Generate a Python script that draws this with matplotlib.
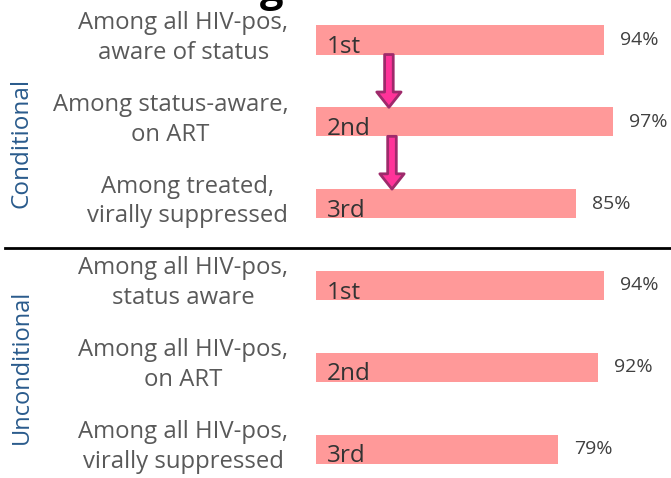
import matplotlib
matplotlib.use('Agg')
import matplotlib.pyplot as plt
from matplotlib.lines import Line2D
import numpy as np

plt.rcParams['font.family'] = ['Open Sans', 'DejaVu Sans']

# data
labels = ["Among all HIV-pos,\naware of status",
          "Among status-aware,\non ART",
          "Among treated,\nvirally suppressed",
          "Among all HIV-pos,\nstatus aware",
          "Among all HIV-pos,\non ART",
          "Among all HIV-pos,\nvirally suppressed"]
steps = ["1st", "2nd", "3rd", "1st", "2nd", "3rd"]
values = [94, 97, 85, 94, 92, 79]
groups = ["Conditional", "Unconditional"]

bar_color = '#FF9999'
txt_gray = '#595959'

fig = plt.figure(figsize=(6.71, 4.78), dpi=100)
# x=0 at pixel 316, 100% ~ 306 px wide; axes spans full height
ax = fig.add_axes([316/671, 0, 306.4/671, 1])
y = np.arange(len(values))
h = 0.355
ax.barh(y, values, height=h, color=bar_color, edgecolor='none')
ax.set_xlim(0, 100)
ax.set_ylim(5.354, -0.489)
ax.axis('off')

for i, (lab, st, v) in enumerate(zip(labels, steps, values)):
    ax.annotate(lab, xy=(0, i), xytext=(-20, 1.5), textcoords='offset points',
                ha='right', va='center', multialignment='center',
                fontsize=17.2, color=txt_gray, linespacing=1.32,
                annotation_clip=False)
    ax.annotate(st, xy=(0, i + h/2), xytext=(8, 1), textcoords='offset points',
                ha='left', va='baseline', fontsize=17.5, color='#333333')
    ax.annotate(f"{v}%", xy=(v, i), xytext=(11.5, 0), textcoords='offset points',
                ha='left', va='center', fontsize=14, color='#404040',
                annotation_clip=False)

# arrows between conditional steps
for i, xa in [(0, 23.8), (1, 24.8)]:
    ax.annotate('', xy=(xa, i + 1 - h/2), xytext=(xa, i + h/2),
                arrowprops=dict(arrowstyle='simple,head_length=1.1,head_width=1.75,tail_width=0.62',
                                fc='#FF3399', ec='#9E2A6B', lw=2.0,
                                shrinkA=0, shrinkB=0, mutation_scale=10))

# divider
fig.add_artist(Line2D([5/671, 1], [1 - 248/478, 1 - 248/478], color='black', lw=2))

# group labels
fig.text(22/671, 1 - 143/478, groups[0], rotation=90, ha='center', va='center',
         fontsize=17.5, color='#2A5B8C')
fig.text(22/671, 1 - 367/478, groups[1], rotation=90, ha='center', va='center',
         fontsize=17, color='#2A5B8C')

# title cut off at top
fig.text(272/671, 1 - 1/478, 'g', ha='center', va='baseline', fontsize=30,
         fontweight='bold', color='black')

plt.savefig('out.png', dpi=100)
